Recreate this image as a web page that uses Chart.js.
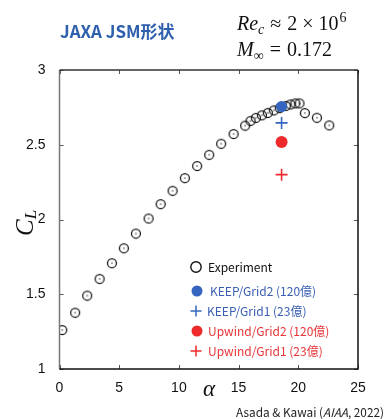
<!DOCTYPE html>
<html>
<head>
<meta charset="utf-8">
<script src="https://cdn.jsdelivr.net/npm/chart.js@4.4.0/dist/chart.umd.min.js"></script>
<style>
  html, body { margin: 0; padding: 0; background: #fff; }
  #wrap { width: 385px; height: 419px; position: relative; }
</style>
</head>
<body>
<div id="wrap"><canvas id="cl-chart" width="385" height="419"></canvas></div>
<script>
// experiment (wind tunnel)
const alphaExp = [0.23, 1.31, 2.32, 3.36, 4.39, 5.39, 6.40, 7.46, 8.47, 9.47, 10.50, 11.53, 12.54, 13.54, 14.58,
  15.55, 16.0, 16.45, 16.95, 17.45, 17.95, 18.45, 18.95, 19.35, 19.75, 20.1, 20.55, 21.56, 22.59];
const clExp = [1.261, 1.377, 1.491, 1.603, 1.708, 1.808, 1.906, 2.007, 2.103, 2.192, 2.277, 2.358, 2.433, 2.507, 2.572,
  2.628, 2.66, 2.68, 2.697, 2.713, 2.73, 2.745, 2.76, 2.77, 2.777, 2.777, 2.712, 2.681, 2.63];

// LES results, all at the same alpha
const alphaLes = [18.6];
const clKeepGrid2 = [2.756];
const clKeepGrid1 = [2.646];
const clUpwindGrid2 = [2.518];
const clUpwindGrid1 = [2.30];

const legendLabels = ["Experiment", "KEEP/Grid2 (120億)", "KEEP/Grid1 (23億)", "Upwind/Grid2 (120億)", "Upwind/Grid1 (23億)"];
const xTicks = [0, 5, 10, 15, 20, 25];
const yTicks = [1, 1.5, 2, 2.5, 3];

const BLUE = "#3565c0";
const RED = "#ee2a2a";
const BLUE_TXT = "#3a5fb3";
const RED_TXT = "#e83538";

// circle with a dot in the middle
function ringDot() {
  const c = document.createElement("canvas");
  c.width = 12; c.height = 12;
  const g = c.getContext("2d");
  g.strokeStyle = "#111";
  g.lineWidth = 1.25;
  g.beginPath(); g.arc(6, 6, 4.5, 0, Math.PI * 2); g.stroke();
  g.fillStyle = "#111";
  g.beginPath(); g.arc(6, 6, 0.7, 0, Math.PI * 2); g.fill();
  return c;
}

const toPts = (xs, ys) => ys.map((y, i) => ({ x: xs[i], y }));

// frame + inward ticks on all four sides
const framePlugin = {
  id: "frame",
  afterDatasetsDraw(chart) {
    const { ctx, chartArea: a, scales: { x, y } } = chart;
    ctx.save();
    ctx.strokeStyle = "#555";
    ctx.lineWidth = 1;
    xTicks.forEach(v => {
      const px = Math.round(x.getPixelForValue(v)) + 0.5;
      ctx.beginPath();
      ctx.moveTo(px, a.bottom); ctx.lineTo(px, a.bottom - 4);
      ctx.moveTo(px, a.top); ctx.lineTo(px, a.top + 4);
      ctx.stroke();
    });
    yTicks.forEach(v => {
      const py = Math.round(y.getPixelForValue(v)) + 0.5;
      ctx.beginPath();
      ctx.moveTo(a.left, py); ctx.lineTo(a.left + 4, py);
      ctx.moveTo(a.right, py); ctx.lineTo(a.right - 4, py);
      ctx.stroke();
    });
    ctx.lineWidth = 1.5;
    ctx.strokeStyle = "#777";
    ctx.beginPath(); ctx.moveTo(a.left, a.top); ctx.lineTo(a.left, a.bottom); ctx.stroke();
    ctx.strokeStyle = "#111";
    ctx.beginPath();
    ctx.moveTo(a.left, a.bottom); ctx.lineTo(a.right, a.bottom); ctx.lineTo(a.right, a.top);
    ctx.stroke();
    ctx.strokeStyle = "#333";
    ctx.beginPath(); ctx.moveTo(a.left, a.top); ctx.lineTo(a.right, a.top); ctx.stroke();
    ctx.restore();
  }
};

// draw text runs (italic/sub/sup pieces) one after another
function runs(ctx, x, y, parts) {
  let cx = x;
  parts.forEach(p => {
    cx += p.gap || 0;
    ctx.font = p.font;
    ctx.fillText(p.t, cx, y + (p.dy || 0));
    cx += ctx.measureText(p.t).width;
  });
}

const textPlugin = {
  id: "texts",
  afterDraw(chart) {
    const { ctx } = chart;
    ctx.save();
    ctx.textBaseline = "alphabetic";
    ctx.textAlign = "left";

    // title
    ctx.fillStyle = "#2f60ae";
    ctx.font = "bold 17px 'Noto Sans CJK JP'";
    ctx.fillText("JAXA JSM形状", 60, 38);

    // conditions
    ctx.fillStyle = "#111";
    const it = "italic 20px 'Liberation Serif'";
    const rm = "20px 'Liberation Serif'";
    const sm = "italic 14px 'Liberation Serif'";
    const smr = "14px 'Liberation Serif'";
    runs(ctx, 237, 30, [
      { t: "Re", font: it },
      { t: "c", font: sm, dy: 4 },
      { t: "≈", font: rm, gap: 6 },
      { t: "2", font: rm, gap: 6 },
      { t: "×", font: rm, gap: 5 },
      { t: "10", font: rm, gap: 5 },
      { t: "6", font: smr, dy: -8, gap: 1 }
    ]);
    runs(ctx, 237, 56, [
      { t: "M", font: it },
      { t: "∞", font: smr, dy: 4 },
      { t: "=", font: rm, gap: 6 },
      { t: "0.172", font: rm, gap: 6 }
    ]);

    // axis titles
    ctx.save();
    ctx.translate(33, 236);
    ctx.rotate(-Math.PI / 2);
    runs(ctx, 0, 0, [
      { t: "C", font: "italic 25px 'Liberation Serif'" },
      { t: "L", font: "italic 17px 'Liberation Serif'", dy: 3 }
    ]);
    ctx.restore();
    ctx.font = "italic 23px 'Liberation Serif'";
    ctx.fillText("α", 203, 396);

    // legend
    const lx = 196, ty = [267, 291, 311, 331, 351];
    const cols = ["#111", BLUE_TXT, BLUE_TXT, RED_TXT, RED_TXT];
    const tx = [208, 210, 207, 208, 208];
    ctx.lineWidth = 1.4;
    ctx.strokeStyle = "#111";
    ctx.beginPath(); ctx.arc(lx, ty[0], 5.2, 0, Math.PI * 2); ctx.stroke();
    ctx.fillStyle = BLUE;
    ctx.beginPath(); ctx.arc(lx + 1, ty[1], 5.5, 0, Math.PI * 2); ctx.fill();
    ctx.fillStyle = RED;
    ctx.beginPath(); ctx.arc(lx + 1, ty[3], 5.5, 0, Math.PI * 2); ctx.fill();
    ctx.lineWidth = 1.5;
    [[ty[2], BLUE], [ty[4], RED]].forEach(([yy, c]) => {
      ctx.strokeStyle = c;
      ctx.beginPath();
      ctx.moveTo(lx - 5.5, yy); ctx.lineTo(lx + 5.5, yy);
      ctx.moveTo(lx, yy - 5.5); ctx.lineTo(lx, yy + 5.5);
      ctx.stroke();
    });
    ctx.font = "12px 'Noto Sans CJK JP'";
    ctx.textBaseline = "middle";
    legendLabels.forEach((s, i) => {
      ctx.fillStyle = cols[i];
      ctx.fillText(s, tx[i], ty[i] + 0.5);
    });

    // source
    ctx.textBaseline = "alphabetic";
    ctx.fillStyle = "#222";
    const f1 = "11.8px 'Noto Sans CJK JP'", f2 = "italic 11.8px 'Noto Sans CJK JP'";
    const parts = [{ t: "Asada & Kawai (", font: f1 }, { t: "AIAA", font: f2 }, { t: ", 2022)", font: f1 }];
    let w = 0;
    parts.forEach(p => { ctx.font = p.font; w += ctx.measureText(p.t).width; });
    runs(ctx, 384 - w, 417, parts);
    ctx.restore();
  }
};

const ctx = document.getElementById("cl-chart").getContext("2d");
new Chart(ctx, {
  type: "scatter",
  data: {
    datasets: [
      { label: legendLabels[0], data: toPts(alphaExp, clExp), pointStyle: ringDot(), radius: 6, order: 2 },
      { label: legendLabels[1], data: toPts(alphaLes, clKeepGrid2), pointStyle: "circle", radius: 5.6,
        backgroundColor: BLUE, borderColor: BLUE, borderWidth: 0, order: 1 },
      { label: legendLabels[2], data: toPts(alphaLes, clKeepGrid1), pointStyle: "cross", radius: 6,
        borderColor: BLUE, borderWidth: 1.6, order: 1 },
      { label: legendLabels[3], data: toPts(alphaLes, clUpwindGrid2), pointStyle: "circle", radius: 6,
        backgroundColor: RED, borderColor: RED, borderWidth: 0, order: 1 },
      { label: legendLabels[4], data: toPts(alphaLes, clUpwindGrid1), pointStyle: "cross", radius: 6,
        borderColor: RED, borderWidth: 1.6, order: 1 }
    ]
  },
  options: {
    responsive: false,
    animation: false,
    layout: { padding: { left: 0, right: 27, top: 70, bottom: 0 } },
    plugins: { legend: { display: false }, tooltip: { enabled: false } },
    scales: {
      x: {
        type: "linear", min: 0, max: 25,
        afterBuildTicks: s => { s.ticks = xTicks.map(v => ({ value: v })); },
        afterFit: s => { s.height = 50; },
        grid: { display: false },
        border: { display: false },
        ticks: { color: "#111", padding: 3, callback: v => String(v), font: { family: "'Liberation Sans'", size: 14 } }
      },
      y: {
        type: "linear", min: 1, max: 3,
        afterBuildTicks: s => { s.ticks = yTicks.map(v => ({ value: v })); },
        afterFit: s => { s.width = 59.5; },
        grid: { display: false },
        border: { display: false },
        ticks: { color: "#111", padding: 6, callback: v => String(v), font: { family: "'Liberation Sans'", size: 14 } }
      }
    }
  },
  plugins: [framePlugin, textPlugin]
});
</script>
</body>
</html>
